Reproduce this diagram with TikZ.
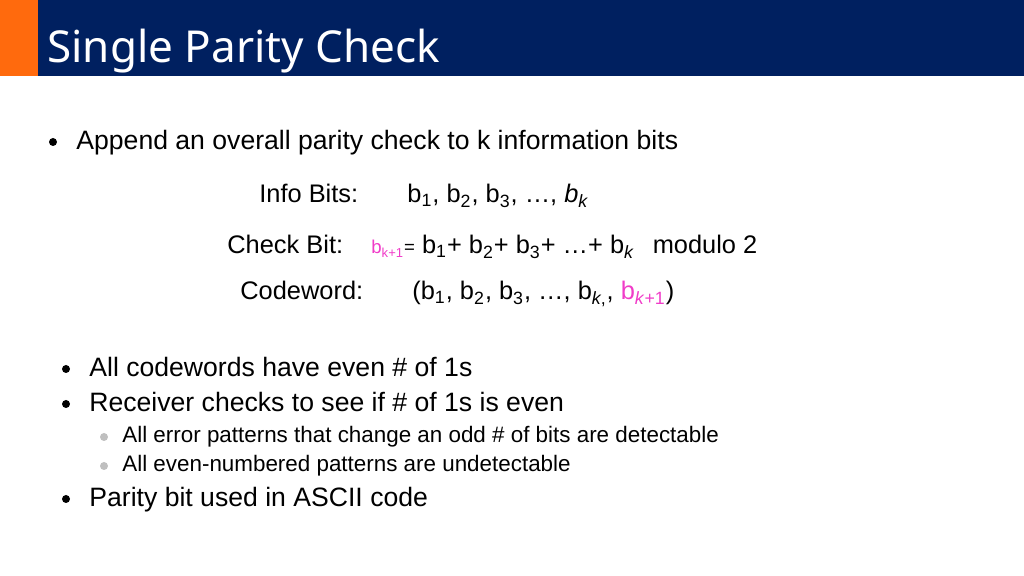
\documentclass[tikz,border=0pt]{standalone}
\usepackage{fontspec}
\setmainfont{Liberation Sans}
\newfontfamily\titlefont{Noto Sans}
\definecolor{navy}{HTML}{002060}
\definecolor{orng}{HTML}{FF6A0D}
\definecolor{pink}{HTML}{F03CC8}
\definecolor{lgray}{HTML}{BFBFBF}
\newcommand\ssb[1]{\textsubscript{#1}}
\begin{document}
\begin{tikzpicture}[x=0.5pt,y=-0.5pt,
  txt/.style={anchor=base west,inner sep=0pt,font=\fontsize{13.3}{15}\selectfont},
  sub/.style={anchor=base west,inner sep=0pt,font=\fontsize{11.2}{13}\selectfont},
  frm/.style={anchor=base west,inner sep=0pt,font=\fontsize{12.7}{15}\selectfont},
  dot/.style={circle,fill=black,inner sep=0pt,minimum size=4pt},
  gdot/.style={circle,fill=lgray,inner sep=0pt,minimum size=4pt}]
\useasboundingbox (0,0) rectangle (1024,576);
\fill[navy] (0,0) rectangle (1024,76);
\fill[orng] (0,0) rectangle (38,76);
\node[anchor=base west,inner sep=0pt,text=white,font=\titlefont\bfseries\fontsize{22}{25}\selectfont] (title) at (47,63) {Single Parity Check};
\node[dot] (d1) at (53,142) {};
\node[txt] (t1) at (76,150) {Append an overall parity check to k information bits};
\node[frm] (ib) at (259,203) {Info Bits:};
\node[frm] (ibv) at (407,203) {b\ssb{1}, b\ssb{2}, b\ssb{3}, \dots, \textit{b\ssb{k}}};
\node[frm] (cb) at (227,254) {Check Bit:};
\node[frm] (cbv) at (371,254) {{\fontsize{9.3}{11}\selectfont\textcolor{pink}{b\ssb{k+1}}=} b\ssb{1}+ b\ssb{2}+ b\ssb{3}+ \dots+ b\ssb{\textit{k}}\hspace{9pt}modulo 2};
\node[frm] (cw) at (240,300) {Codeword:};
\node[frm] (cwv) at (412,300) {(b\ssb{1}, b\ssb{2}, b\ssb{3}, \dots, b\ssb{\textit{k},}, \textcolor{pink}{b\ssb{\textit{k}+1}})};
\node[dot] (d2) at (66,369) {};
\node[txt] (t2) at (89,377) {All codewords have even \# of 1s};
\node[dot] (d3) at (66,404) {};
\node[txt] (t3) at (89,412) {Receiver checks to see if \# of 1s is even};
\node[gdot] (g1) at (104,437) {};
\node[sub] (s1) at (122,443) {All error patterns that change an odd \# of bits are detectable};
\node[gdot] (g2) at (104,466) {};
\node[sub] (s2) at (122,472) {All even-numbered patterns are undetectable};
\node[dot] (d4) at (66,499) {};
\node[txt] (t4) at (89,507) {Parity bit used in ASCII code};
\end{tikzpicture}
\end{document}
